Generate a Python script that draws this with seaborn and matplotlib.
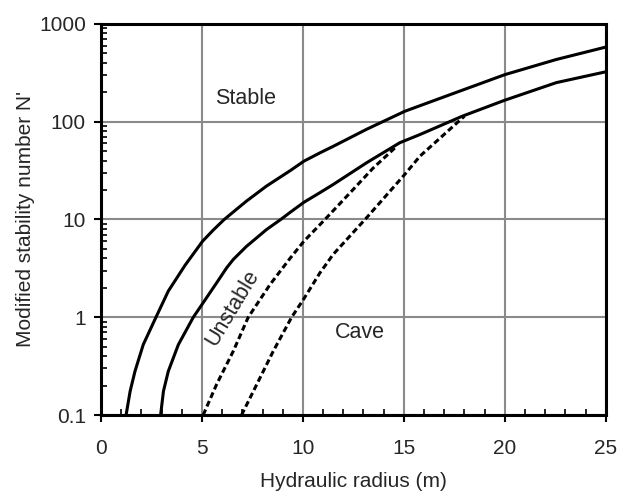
import matplotlib
matplotlib.use("Agg")
import matplotlib.pyplot as plt
from matplotlib.ticker import FixedLocator, MultipleLocator, LogLocator, NullFormatter
import seaborn as sns
import pandas as pd

# ---- data ----
upper_x = [1.24, 1.44, 1.68, 2.09, 2.72, 3.33, 4.16, 5.03, 5.56, 6.1, 7.2, 8.2, 9.36, 10.05, 10.84, 11.5, 13.15, 15.05, 17.1, 20.0, 22.55, 25.0]
upper_y = [0.1, 0.175, 0.28, 0.525, 1.0, 1.85, 3.4, 6.0, 7.8, 10, 15.4, 22, 31.5, 39.5, 48, 56, 83.6, 128, 183, 303, 433, 580]

lower_x = [2.95, 3.09, 3.33, 3.83, 4.57, 5.05, 5.72, 6.22, 6.55, 7.2, 8.2, 8.9, 9.36, 10.05, 10.84, 11.5, 13.15, 14.8, 15.8, 17.9, 20.0, 22.55, 25.0]
lower_y = [0.1, 0.175, 0.28, 0.525, 1.0, 1.4, 2.24, 3.2, 3.9, 5.3, 7.9, 10, 11.8, 15, 18.8, 22.8, 38, 61, 74, 114, 166, 251, 324]

dashed1_x = [5.06, 5.72, 6.55, 7.29, 8.37, 9.36, 10.05, 11.09, 12.33, 13.48, 14.64]
dashed1_y = [0.1, 0.205, 0.45, 1.0, 2.16, 4.0, 6.0, 10, 18.7, 33.6, 56]

dashed2_x = [6.96, 7.71, 8.53, 9.44, 10.05, 10.84, 11.5, 13.15, 15.05, 15.8, 18.0]
dashed2_y = [0.1, 0.205, 0.45, 1.0, 1.55, 2.84, 4.4, 10.4, 29, 44.5, 114]

x_ticks = [0, 5, 10, 15, 20, 25]
y_ticks = [0.1, 1, 10, 100, 1000]
y_tick_labels = ["0.1", "1", "10", "100", "1000"]

x_label = "Hydraulic radius (m)"
y_label = "Modified stability number N'"

region_labels = ["Stable", "Unstable", "Cave"]
region_x = [7.18, 6.53, 12.8]
region_y = [174, 1.26, 0.70]
region_rot = [0, 59, 0]

# ---- build table ----
frames = []
for name, xs, ys in [("upper", upper_x, upper_y), ("lower", lower_x, lower_y),
                     ("dashed1", dashed1_x, dashed1_y), ("dashed2", dashed2_x, dashed2_y)]:
    frames.append(pd.DataFrame({"curve": name, "hr": xs, "n": ys}))
df = pd.concat(frames, ignore_index=True)

sns.set_style("white")
plt.rcParams["font.family"] = ["Liberation Sans", "DejaVu Sans"]

fig = plt.figure(figsize=(6.2, 4.95), dpi=100)
ax = fig.add_axes([0.163, 0.1616, 0.814, 0.79])

for name in ["upper", "lower", "dashed1", "dashed2"]:
    sns.lineplot(data=df[df.curve == name], x="hr", y="n", ax=ax, color="black",
                 linewidth=2.2, estimator=None, sort=False)
for line in ax.get_lines():
    line.set_solid_joinstyle("round")
    line.set_solid_capstyle("butt")
for line in ax.get_lines()[2:4]:
    line.set_dashes((1.95, 1.1))

ax.set_yscale("log")
ax.set_xlim(0, 25)
ax.set_ylim(0.1, 1000)

ax.xaxis.set_major_locator(FixedLocator(x_ticks))
ax.xaxis.set_minor_locator(MultipleLocator(1))
ax.yaxis.set_major_locator(FixedLocator(y_ticks))
ax.yaxis.set_minor_locator(LogLocator(base=10, subs=range(2, 10), numticks=20))
ax.yaxis.set_minor_formatter(NullFormatter())
ax.set_xticklabels([str(t) for t in x_ticks])
ax.set_yticklabels(y_tick_labels)

ax.grid(True, which="major", color="#8a8a8a", linewidth=1.5)
ax.set_axisbelow(True)

ax.tick_params(which="major", direction="out", length=5, width=1.5, labelsize=15,
               color="black", pad=6)
ax.tick_params(axis="x", which="major", pad=12)
ax.tick_params(which="minor", direction="in", length=4, width=1.2, color="black")
ax.tick_params(which="both", left=True, bottom=True, top=False, right=False)

for s in ax.spines.values():
    s.set_color("black")
    s.set_linewidth(2.2)
    s.set_visible(True)

ax.set_xlabel(x_label, fontsize=15, labelpad=10)
ax.set_ylabel(y_label, fontsize=15, labelpad=3)

for txt, tx, ty, rot in zip(region_labels, region_x, region_y, region_rot):
    ax.text(tx, ty, txt, fontsize=15.5, ha="center", va="center", rotation=rot,
            rotation_mode="anchor")

fig.savefig("out.png", dpi=100, facecolor="white")
